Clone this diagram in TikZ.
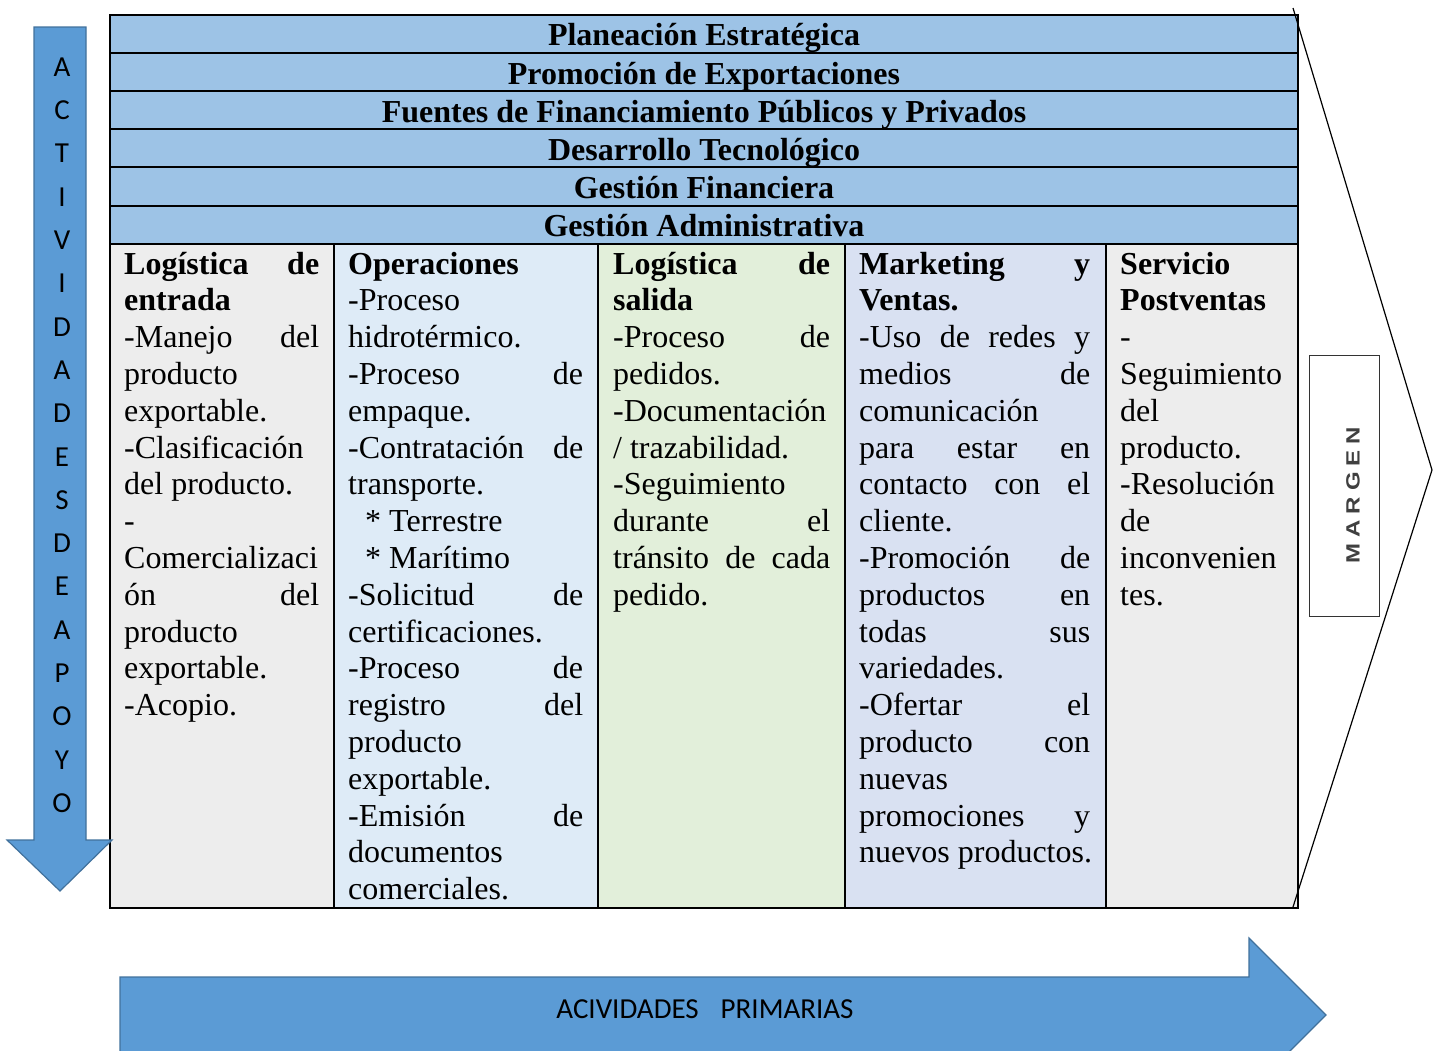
\documentclass[tikz,border=0pt]{standalone}
\usepackage{fontspec}
\setmainfont{Liberation Serif}
\newfontfamily\calib{Carlito}
\newfontfamily\arialf{Liberation Sans}
\definecolor{hdr}{HTML}{9DC3E6}
\definecolor{cA}{HTML}{EDEDED}
\definecolor{cB}{HTML}{DEEBF7}
\definecolor{cC}{HTML}{E2EFDA}
\definecolor{cD}{HTML}{D9E1F2}
\definecolor{arrf}{HTML}{5B9BD5}
\definecolor{arrd}{HTML}{41719C}
\definecolor{mg}{HTML}{404040}
\newcommand\jl[1]{\makebox[\linewidth][s]{\spaceskip=0pt\relax\xspaceskip=0pt\relax #1}}
\newcommand\natsp{\spaceskip=0pt\relax\xspaceskip=0pt\relax}
\newcommand\cellsetup{\fontsize{32}{36.8}\selectfont\hyphenpenalty=10000\relax\exhyphenpenalty=10000\relax}
\begin{document}
\begin{tikzpicture}[x=1pt,y=-1pt,
  cell/.style={anchor=base west, inner sep=0pt, align=left, font=\cellsetup},
  hdrtext/.style={anchor=base, inner sep=0pt, font=\fontsize{32}{36.8}\selectfont\bfseries},
  grid/.style={line width=2pt, black},
  bigarrow/.style={fill=arrf, draw=arrd, line width=1.2pt, line join=miter},
  letter/.style={inner sep=0pt, font=\calib\fontsize{29}{30}\selectfont}]
\useasboundingbox (0,0) rectangle (1433,1050);
\clip (0,0) rectangle (1433,1050);

% fills
\fill[hdr] (110,15) rectangle (1298,244);
\fill[cA] (110,244) rectangle (334,908);
\fill[cB] (334,244) rectangle (598,908);
\fill[cC] (598,244) rectangle (845,908);
\fill[cD] (845,244) rectangle (1106,908);
\fill[cA] (1106,244) rectangle (1298,908);

% grid
\foreach \yy in {53,91,129,167,206,244} \draw[grid] (110,\yy) -- (1298,\yy);
\foreach \xx in {334,598,845,1106} \draw[grid] (\xx,244) -- (\xx,908);
\draw[grid] (110,15) rectangle (1298,908);

% header texts
\node[hdrtext] (h1) at (704,45) {Planeación Estratégica};
\node[hdrtext] (h2) at (704,84) {Promoción de Exportaciones};
\node[hdrtext] (h3) at (704,122) {Fuentes de Financiamiento Públicos y Privados};
\node[hdrtext] (h4) at (704,160) {Desarrollo Tecnológico};
\node[hdrtext] (h5) at (704,198) {Gestión Financiera};
\node[hdrtext] (h6) at (704,236) {Gestión Administrativa};

% columns
\node[cell, text width=195pt] (c1) at (124,274) {\natsp
\jl{\textbf{Logística de}}\\
\textbf{entrada}\\
\jl{-Manejo del}\\
producto\\
exportable.\\
-Clasificación\\
del producto.\\
-\\
Comercializaci\\
\jl{ón del}\\
producto\\
exportable.\\
-Acopio.};

\node[cell, text width=235pt] (c2) at (348,274) {\natsp
\textbf{Operaciones}\\
-Proceso\\
hidrotérmico.\\
\jl{-Proceso de}\\
empaque.\\
\jl{-Contratación de}\\
transporte.\\
\hspace*{17pt}* Terrestre\\
\hspace*{17pt}* Marítimo\\
\jl{-Solicitud de}\\
certificaciones.\\
\jl{-Proceso de}\\
\jl{registro del}\\
producto\\
exportable.\\
\jl{-Emisión de}\\
documentos\\
comerciales.};

\node[cell, text width=217pt] (c3) at (613,274) {\natsp
\jl{\textbf{Logística de}}\\
\textbf{salida}\\
\jl{-Proceso de}\\
pedidos.\\
-Documentación\\
/ trazabilidad.\\
-Seguimiento\\
\jl{durante el}\\
\jl{tránsito de cada}\\
pedido.};

\node[cell, text width=231pt] (c4) at (859,274) {\natsp
\jl{\textbf{Marketing y}}\\
\textbf{Ventas.}\\
\jl{-Uso de redes y}\\
\jl{medios de}\\
comunicación\\
\jl{para estar en}\\
\jl{contacto con el}\\
cliente.\\
\jl{-Promoción de}\\
\jl{productos en}\\
\jl{todas sus}\\
variedades.\\
\jl{-Ofertar el}\\
\jl{producto con}\\
nuevas\\
\jl{promociones y}\\
\mbox{nuevos productos.}};

\node[cell, text width=164pt] (c5) at (1120,274) {\natsp
\textbf{Servicio}\\
\textbf{Postventas}\\
-\\
Seguimiento\\
del\\
producto.\\
-Resolución\\
de\\
inconvenien\\
tes.};

% margin chevron
\coordinate (mtop) at (1293,8);
\coordinate (mtip) at (1432,470);
\coordinate (mbot) at (1293,907);
\draw[line width=1.2pt, black] (mtop) -- (mtip) -- (mbot);
\node[draw=black!80, line width=1pt, fill=white, minimum width=70pt, minimum height=261pt, inner sep=0pt] (mbox) at (1344,485.5) {};
\node[rotate=90, inner sep=0pt, text=mg, font=\arialf\bfseries\fontsize{24}{26}\selectfont] (mtext) at (1353,495)
  {\scalebox{1}[0.8]{M\hspace{6pt}A\hspace{6pt}R\hspace{6pt}G\hspace{6pt}E\hspace{6pt}N}};

% left arrow (actividades de apoyo)
\draw[bigarrow] (34,27) -- (86,27) -- (86,840) -- (112,840) -- (60,891) -- (7,840) -- (34,840) -- cycle;
\foreach \l [count=\i] in {A,C,T,I,V,I,D,A,D,E,S,D,E,A,P,O,Y,O}
  \node[letter] (ap\i) at (62,{67+(\i-1)*43.3}) {\l};

% bottom arrow (actividades primarias)
\draw[bigarrow] (120,977) -- (1249,977) -- (1249,938) -- (1326,1015) -- (1249,1092) -- (1249,1053) -- (120,1053) -- cycle;
\node[inner sep=0pt, font=\calib\fontsize{29}{30}\selectfont] (prim) at (705,1009) {ACIVIDADES\hspace{22pt}PRIMARIAS};
\end{tikzpicture}
\end{document}
